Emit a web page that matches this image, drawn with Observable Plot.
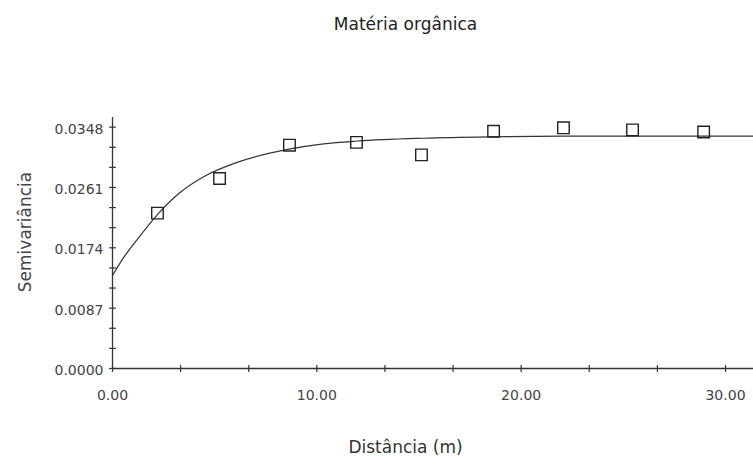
<!DOCTYPE html>
<html>
<head>
<meta charset="utf-8">
<script src="https://cdn.jsdelivr.net/npm/d3@7"></script>
<script src="https://cdn.jsdelivr.net/npm/@observablehq/plot@0.6"></script>
<style>
  html, body { margin: 0; padding: 0; background: #fff; }
</style>
</head>
<body>
<div id="chart"></div>
<script>
// ---- data ----
const titleText = "Matéria orgânica";
const xLabel = "Distância (m)";
const yLabel = "Semivariância";

// experimental semivariogram points
const lagDist = [2.20, 5.24, 8.66, 11.94, 15.12, 18.65, 22.07, 25.45, 28.93];
const semivar = [0.0224, 0.0274, 0.0322, 0.0326, 0.0308, 0.0342, 0.0347, 0.0344, 0.0341];

// fitted model curve
const modelDist  = [0, 0.50, 1.13, 2.20, 3.23, 4.55, 6.17, 8.57, 10.33, 12.00, 15.20, 18.40, 22.00, 26.00, 31.37];
const modelGamma = [0.0134, 0.0158, 0.0183, 0.0222, 0.0252, 0.0278, 0.0298, 0.0316, 0.0324, 0.0328, 0.0332, 0.0334, 0.0335, 0.0335, 0.0335];

// tick values
const xTickLabels = [0, 10, 20, 30];
const xTickMarks = [0, 3.333, 6.667, 10, 13.333, 16.667, 20, 23.333, 26.667, 30];
const yTickLabels = [0, 0.0087, 0.0174, 0.0261, 0.0348];
const yTickMarks = [0, 0.0029, 0.0058, 0.0087, 0.0116, 0.0145, 0.0174, 0.0203, 0.0232, 0.0261, 0.029, 0.0319, 0.0348];

// ---- build tables ----
const points = lagDist.map((d, i) => ({dist: d, gamma: semivar[i]}));
const model = modelDist.map((d, i) => ({dist: d, gamma: modelGamma[i]}));

// tick glyphs that cross the axis line
const hLine = {draw(ctx, size) { const h = Math.sqrt(size / Math.PI); ctx.moveTo(-h, 0); ctx.lineTo(h, 0); }};
const vLine = {draw(ctx, size) { const h = Math.sqrt(size / Math.PI); ctx.moveTo(0, -h); ctx.lineTo(0, h); }};

const font = "DejaVu Sans";

const chart = Plot.plot({
  width: 753,
  height: 461,
  marginLeft: 112,
  marginRight: 0,
  marginTop: 117,
  marginBottom: 93,
  style: {fontFamily: font, fontSize: "14px", color: "#444", background: "#fff", overflow: "visible"},
  x: {domain: [0, 31.37]},
  y: {domain: [0, 0.03619]},
  marks: [
    // axis lines
    Plot.ruleX([0], {stroke: "#333", strokeWidth: 1.3}),
    Plot.ruleY([0], {stroke: "#333", strokeWidth: 1.3}),
    // crossing ticks
    Plot.dot(yTickMarks, {x: () => 0, y: d => d, symbol: hLine, r: 3.4, stroke: "#333", strokeWidth: 1.2}),
    Plot.dot(xTickMarks, {x: d => d, y: () => 0, symbol: vLine, r: 3.4, stroke: "#333", strokeWidth: 1.2}),
    // tick labels
    Plot.axisX(xTickLabels, {tickSize: 0, tickPadding: 22, tickFormat: d3.format(".2f"), label: null, fill: "#444", fontSize: 14}),
    Plot.axisY(yTickLabels, {tickSize: 0, tickPadding: 9, tickFormat: d3.format(".4f"), label: null, fill: "#444", fontSize: 14, dy: 2}),
    // model curve
    Plot.line(model, {x: "dist", y: "gamma", curve: "monotone-x", stroke: "#333", strokeWidth: 1.2}),
    // experimental points
    Plot.dot(points, {x: "dist", y: "gamma", symbol: "square", r: 6.5, stroke: "#222", strokeWidth: 1.4, fill: "none"}),
    // titles
    Plot.text([titleText], {text: d => d, frameAnchor: "top", textAnchor: "middle", dx: -27.5, dy: -100, fontSize: 17, fill: "#222"}),
    Plot.text([xLabel], {text: d => d, frameAnchor: "bottom", textAnchor: "middle", dx: -27.5, dy: 84, fontSize: 17, fill: "#333"}),
    Plot.text([yLabel], {text: d => d, frameAnchor: "left", textAnchor: "middle", dx: -87, dy: -11, rotate: -90, fontSize: 17, fill: "#444"})
  ]
});

document.getElementById("chart").appendChild(chart);
</script>
</body>
</html>
